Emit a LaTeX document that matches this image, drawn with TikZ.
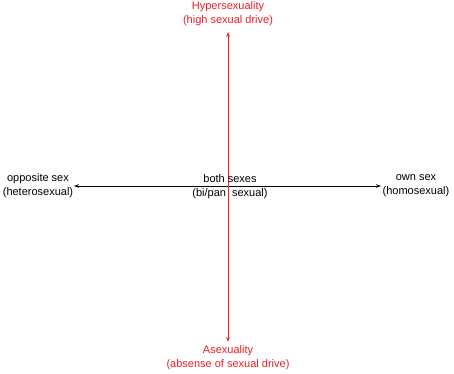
\documentclass[tikz,border=0pt]{standalone}
\usepackage{fontspec}
\setmainfont{Liberation Sans}
\usetikzlibrary{arrows.meta}
\definecolor{axred}{RGB}{235,30,35}
\begin{document}
\begin{tikzpicture}[x=1pt,y=1pt,
  lbl/.style={align=center,font=\fontsize{11}{14}\selectfont,inner sep=0pt},
  axis/.style={line width=0.8pt,-{Stealth[length=5pt,width=3.5pt]}},
  pt/.style={inner sep=0pt,minimum size=0pt}]
\useasboundingbox (0,0) rectangle (454,373);
% end points
\coordinate (top) at (228,341);
\coordinate (bot) at (228,31);
\coordinate (lft) at (74,187);
\coordinate (rgt) at (381,187);
\coordinate (ctr) at (228,187);
% texts
\node[lbl,text=axred] (hyper) at (228,359.5) {Hypersexuality\\(high sexual drive)};
\node[lbl,text=axred] (asex) at (228,15) {Asexuality\\(absense of sexual drive)};
\node[lbl] (opp) at (38,187) {opposite sex\\(heterosexual)};
\node[lbl] (own) at (416,187) {own sex\\(homosexual)};
% axes
\draw[axis,black] (ctr) -- (lft);
\draw[axis,black] (ctr) -- (rgt);
\draw[axis,axred] (ctr) -- (top);
\draw[axis,axred] (ctr) -- (bot);
\node[lbl] (both) at (230,186) {both sexes\\(bi/pan\ \ sexual)};
\end{tikzpicture}
\end{document}
